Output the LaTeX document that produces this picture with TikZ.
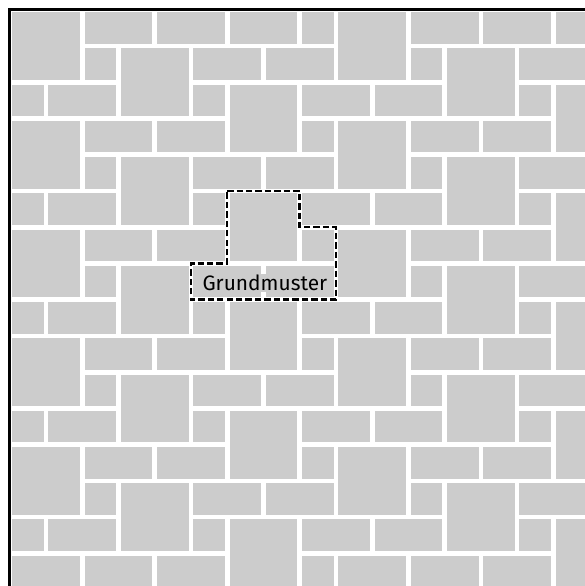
\documentclass[tikz,border=0pt]{standalone}
\usepackage{fontspec}
\setsansfont{Fira Sans}
\definecolor{stonegray}{RGB}{204,204,204}

\begin{document}
\begin{tikzpicture}[x=1cm, y=-1cm,
            stone/.style={fill=stonegray, draw=none},
            frame/.style={draw=black, line width=2.6pt},
            outline/.style={draw=black, line width=2pt, dash pattern=on 5pt off 2.4pt},
            mustertext/.style={fill=stonegray, inner sep=1pt, font=\sffamily\fontsize{16.4}{18}\selectfont}]
            \useasboundingbox (-0.268,-0.268) rectangle (15.847,15.9);
            \def\gap{0.065}
            % pavement: one 2x2, one 1x1 and two 2x1 stones per lattice point
            \begin{scope}
              \clip (\gap,\gap) rectangle (16-\gap,16-\gap);
              \foreach \i in {-1,...,6} {
                \foreach \j in {-3,...,6} {
                  \pgfmathsetmacro{\px}{3*\i}
                  \pgfmathsetmacro{\py}{\i+3*\j}
                  \fill[stone] (\px+\gap,\py+\gap) rectangle (\px+2-\gap,\py+2-\gap);
                  \fill[stone] (\px+2+\gap,\py+1+\gap) rectangle (\px+3-\gap,\py+2-\gap);
                  \fill[stone] (\px-1+\gap,\py+2+\gap) rectangle (\px+1-\gap,\py+3-\gap);
                  \fill[stone] (\px+1+\gap,\py+2+\gap) rectangle (\px+3-\gap,\py+3-\gap);
                }
              }
            \end{scope}
            \draw[frame] (0,0) rectangle (16,16);
            % base pattern
            \draw[outline] (6,5) -- (8,5) -- (8,6) -- (9,6) -- (9,8) -- (5,8) -- (5,7) -- (6,7) -- cycle;
            \node [mustertext, anchor=base] (gm) at (7.04,7.75) {Grundmuster};
        \end{tikzpicture}
\end{document}
